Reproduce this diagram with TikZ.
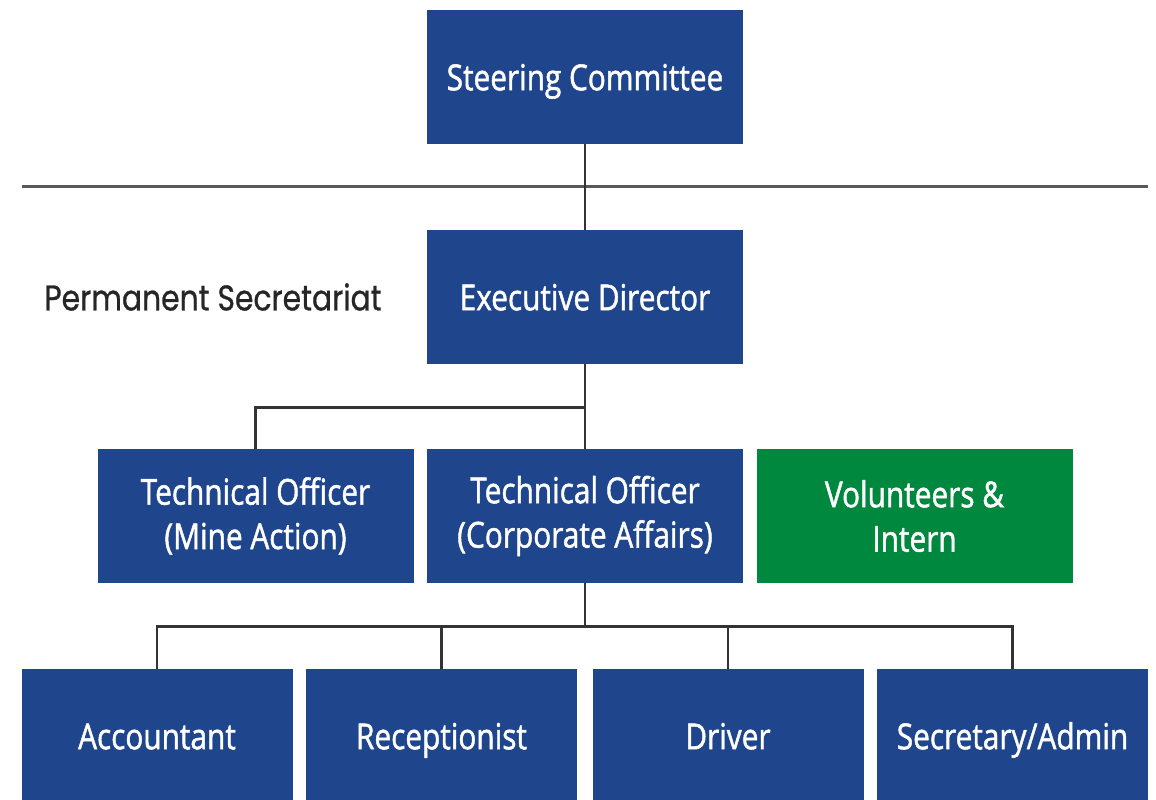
\documentclass[tikz,border=0pt]{standalone}
\usepackage{fontspec}
\setmainfont{Open Sans}
\newfontfamily\boxfont{Open Sans}[FakeBold=1.5]
\newfontfamily\sidefont{Poppins}[FakeBold=0.8]
\usetikzlibrary{positioning}
\definecolor{orgblue}{RGB}{31,69,140}
\definecolor{orggreen}{RGB}{0,136,62}
\definecolor{linegray}{RGB}{51,51,51}

\begin{document}
\begin{tikzpicture}[on grid, node distance=220pt,
    post/.style={fill=orgblue, text=white, font=\boxfont\fontsize{29.8}{37}\selectfont,
      align=center, minimum width=316pt, minimum height=111.7pt, inner sep=0pt,
      yscale=1.2, transform shape},
    oneline/.style={text height=26pt, text depth=4pt},
    staff/.style={post, oneline, minimum width=271pt},
    helper/.style={post, fill=orggreen},
    sidelabel/.style={text=black!85, font=\sidefont\fontsize{29.8}{34}\selectfont,
      inner sep=0pt, yscale=1.2, transform shape},
    link/.style={draw=linegray, line width=2.5pt},
    divider/.style={draw=gray!70!black, line width=3pt}]
  \clip (0pt,0pt) rectangle (1156pt,-800pt);

  % governance
  \node[post, oneline] (sc) at (585pt,-77pt) {Steering Committee};
  \coordinate (divl) at (22pt,-186pt);
  \coordinate (divr) at (1148pt,-186pt);

  % secretariat
  \node[post, oneline] (ed) [below=of sc]             {Executive Director};
  \node[sidelabel, anchor=east] (ps) at ([xshift=-45pt]ed.west) {Permanent Secretariat};
  \node[post]  (tc) [below=219pt of ed]               {Technical Officer\\(Corporate Affairs)};
  \node[post]  (tm) [left=329.5pt of tc]              {Technical Officer\\(Mine Action)};
  \node[helper] (vi) [right=329.5pt of tc]            {Volunteers \&\\Intern};

  % support staff
  \node[staff] (rec) [below left=220pt and 143.5pt of tc]  {Receptionist};
  \node[staff] (acc) [left=284.5pt of rec]                 {Accountant};
  \node[staff] (drv) [below right=220pt and 143pt of tc]   {Driver};
  \node[staff] (sec) [right=284.5pt of drv]                {Secretary/Admin};

  \draw[divider] (divl) -- (divr);
  \draw[link] (sc.south) -- (ed.north);
  \draw[link] (ed.south) -- (tc.north);
  \draw[link] (tm.north) |- ([yshift=-43pt]ed.south);
  \draw[link] (tc.south) -- ([yshift=-43pt]tc.south);
  \draw[link] (acc.north) |- ([yshift=-43pt]tc.south) -| (sec.north);
  \draw[link] (rec.north) |- ([yshift=-43pt]tc.south);
  \draw[link] (drv.north) |- ([yshift=-43pt]tc.south);
\end{tikzpicture}
\end{document}
